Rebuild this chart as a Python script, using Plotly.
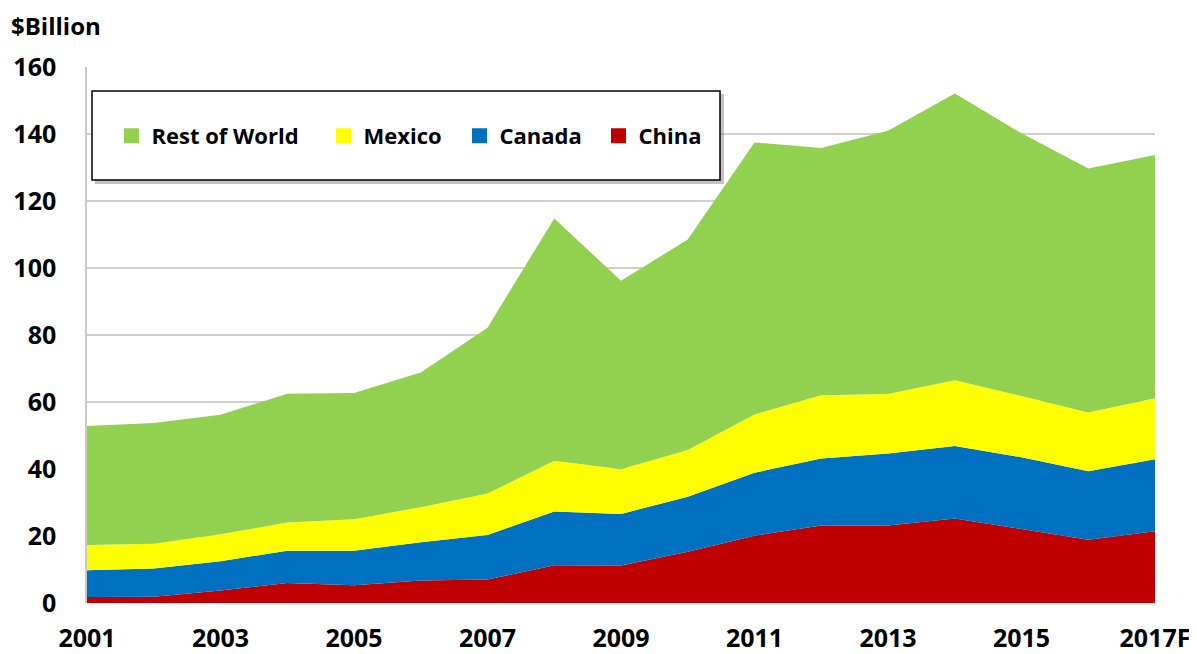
import plotly.graph_objects as go

years = ["2001", "2002", "2003", "2004", "2005", "2006", "2007", "2008", "2009",
         "2010", "2011", "2012", "2013", "2014", "2015", "2016", "2017F"]
tick_labels = ["2001", "2003", "2005", "2007", "2009", "2011", "2013", "2015", "2017F"]

china = [1.8, 1.9, 3.7, 6.0, 5.3, 6.7, 7.0, 11.3, 11.2, 15.3, 20.1, 23.1, 23.1, 25.2, 22.1, 18.9, 21.4]
canada = [8.0, 8.4, 8.8, 9.6, 10.3, 11.4, 13.3, 16.0, 15.4, 16.4, 18.8, 20.0, 21.5, 21.7, 21.4, 20.4, 21.5]
mexico = [7.5, 7.4, 8.0, 8.4, 9.4, 10.5, 12.4, 15.2, 13.3, 14.0, 17.4, 18.9, 17.8, 19.6, 18.3, 17.6, 18.2]
rest_of_world = [35.5, 36.0, 35.7, 38.5, 37.7, 40.2, 49.5, 72.3, 56.3, 62.8, 81.2, 73.8, 78.6, 85.6, 78.4, 72.8, 72.6]

series = [
    ("China", china, "#C00000"),
    ("Canada", canada, "#0070C0"),
    ("Mexico", mexico, "#FFFF00"),
    ("Rest of World", rest_of_world, "#92D050"),
]

# page body has an 8px margin; plot area in viewport: x 87..1155, y 67..603
OFF = 8
VW, VH = 1197, 654
PLOT_L, PLOT_R, PLOT_T, PLOT_B = 87, 1155, 67, 603
W, H = VW - OFF, VH - OFF
L, T = PLOT_L - OFF, PLOT_T - OFF
R, B = VW - PLOT_R, VH - PLOT_B
PW, PH = PLOT_R - PLOT_L, PLOT_B - PLOT_T


def px_x(px):
    return (px - PLOT_L) / PW


def px_y(py):
    return (PLOT_B - py) / PH


FONT = "'Open Sans', Lato, sans-serif"

fig = go.Figure()
for name, vals, color in series:
    fig.add_trace(go.Scatter(
        x=years, y=vals, name=name, stackgroup="one", mode="none",
        fillcolor=color, showlegend=False, hoverinfo="x+y+name",
    ))

# legend entries (square swatches), each in its own positioned legend
legend_keys = ["legend", "legend2", "legend3", "legend4"]
legend_x = [111.5, 323.5, 459.5, 598.5]
for key, (name, vals, color) in zip(legend_keys, reversed(series)):
    fig.add_trace(go.Scatter(
        x=[None], y=[None], name=name, mode="markers",
        marker=dict(symbol="square", size=15, color=color),
        showlegend=True, legend=key,
    ))

shapes = [
    dict(type="rect", xref="paper", yref="paper",
         x0=px_x(95), x1=px_x(724), y0=px_y(184), y1=px_y(94),
         fillcolor="rgba(120,120,120,0.45)", line=dict(width=0), layer="above"),
    dict(type="rect", xref="paper", yref="paper",
         x0=px_x(92), x1=px_x(720), y0=px_y(180), y1=px_y(91),
         fillcolor="white", line=dict(color="black", width=1.5), layer="above"),
]

legend_style = dict(
    orientation="h", xanchor="left", yanchor="middle",
    xref="paper", yref="paper",
    bgcolor="rgba(0,0,0,0)", borderwidth=0,
    font=dict(family=FONT, size=22, color="black", weight="bold"),
    itemwidth=30,
)
legend_layouts = {}
for key, lx in zip(legend_keys, legend_x):
    legend_layouts[key] = dict(legend_style, x=px_x(lx), y=px_y(136))

tick_font = dict(family=FONT, size=25, color="black", weight="bold")

fig.update_layout(
    width=W, height=H,
    margin=dict(l=L, r=R, t=T, b=B, autoexpand=False),
    plot_bgcolor="white", paper_bgcolor="white",
    font=dict(family=FONT, color="black"),
    shapes=shapes,
    showlegend=True,
    annotations=[dict(
        text="$Billion", xref="paper", yref="paper",
        x=px_x(10), y=px_y(26), xanchor="left", yanchor="middle",
        showarrow=False, borderpad=0,
        font=dict(family=FONT, size=24, color="black", weight="bold"),
    )],
    xaxis=dict(
        type="category", categoryorder="array", categoryarray=years,
        range=[0, len(years) - 1], tickmode="array", tickvals=tick_labels, ticktext=tick_labels,
        showgrid=False, zeroline=False, showline=False, ticks="", ticklen=0,
        tickfont=tick_font, ticklabelstandoff=18,
    ),
    yaxis=dict(
        range=[0, 160], dtick=20, tick0=0,
        showgrid=True, gridcolor="#D0D0D0", gridwidth=1.5,
        zeroline=False, showline=True, linecolor="#C8C8C8", linewidth=1.5,
        ticks="", ticklen=0, tickfont=tick_font,
        ticklabelstandoff=24,
    ),
    **legend_layouts,
)

fig.write_html("out.html")
